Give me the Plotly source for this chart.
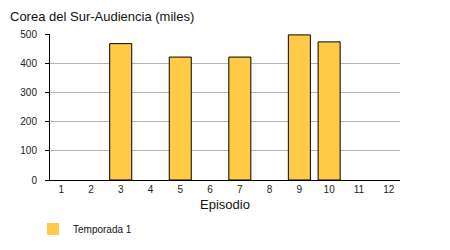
import plotly.graph_objects as go

episodes = [1, 2, 3, 4, 5, 6, 7, 8, 9, 10, 11, 12]
audience = [None, None, 467, None, 421, None, 421, None, 497, 473, None, None]
series_name = "Temporada 1"
title_text = "Corea del Sur-Audiencia (miles)"
x_title = "Episodio"
y_ticks = [0, 100, 200, 300, 400, 500]

bar_color = "#FFCB47"
font_family = "Liberation Sans, Arial, sans-serif"

fig = go.Figure()
fig.add_trace(go.Bar(
    x=episodes, y=audience, width=0.74,
    marker=dict(color=bar_color, line=dict(color="#000000", width=1)),
    showlegend=False, name=series_name,
))
# legend entry (swatch without outline)
fig.add_trace(go.Bar(
    x=[None], y=[None], name=series_name,
    marker=dict(color=bar_color, line=dict(width=0)),
    showlegend=True,
))

fig.update_layout(
    width=450, height=250,
    margin=dict(l=50, r=50, t=34, b=70, pad=0, autoexpand=False),
    paper_bgcolor="white", plot_bgcolor="white",
    font=dict(family=font_family, size=10, color="#222222"),
    title=dict(text=title_text, x=10/450, xanchor="left", xref="container",
               y=1 - 16/250, yanchor="middle", yref="container",
               font=dict(size=13, color="#111111")),
    showlegend=True,
    legend=dict(orientation="h", x=33/450, xref="container", xanchor="left",
                y=1 - 229/250, yref="container", yanchor="middle",
                font=dict(size=10, color="#111111"),
                bgcolor="rgba(0,0,0,0)"),
    bargap=0.26,
)
fig.update_xaxes(
    range=[0.625, 12.38], tickmode="array", tickvals=episodes,
    ticktext=[str(e) for e in episodes],
    showline=True, linecolor="#000000", linewidth=1,
    showgrid=False, ticks="", zeroline=False,
    title=dict(text=x_title, font=dict(size=13, color="#111111"), standoff=5),
    tickfont=dict(size=10), automargin=False,
)
fig.update_yaxes(
    range=[0, 500], tickmode="array", tickvals=y_ticks,
    showline=True, linecolor="#000000", linewidth=1,
    showgrid=True, gridcolor="#b4b4b4", gridwidth=1,
    ticks="outside", ticklen=4, tickcolor="#000000",
    zeroline=False, tickfont=dict(size=10), ticklabelstandoff=6,
    automargin=False,
)

fig.write_html("out.html")
